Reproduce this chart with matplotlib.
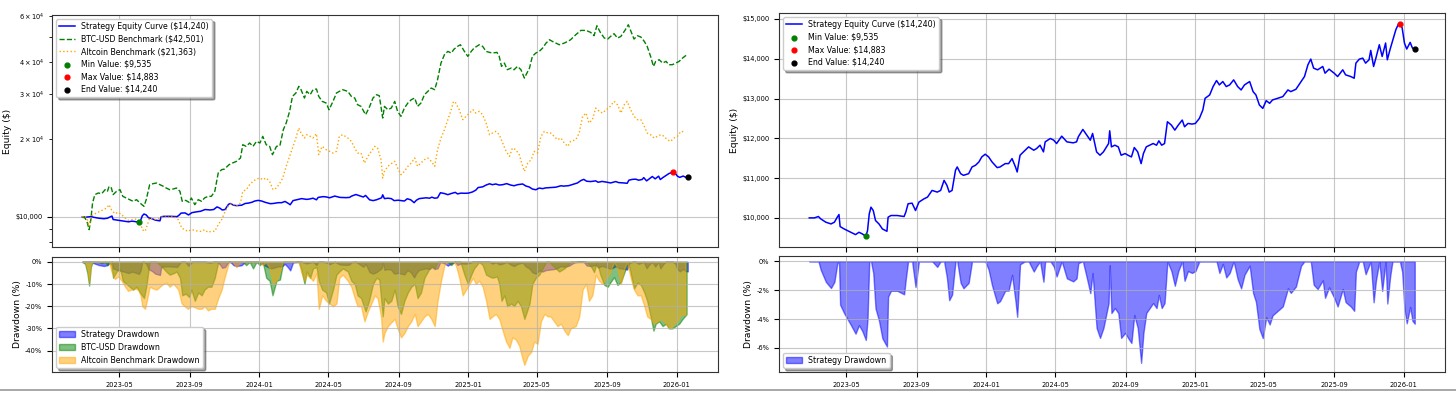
import numpy as np
import pandas as pd
import matplotlib
matplotlib.use("Agg")
import matplotlib.pyplot as plt
import matplotlib.dates as mdates
from matplotlib.ticker import FuncFormatter
from matplotlib.lines import Line2D

start_date = "2023-02-25"

# strategy equity (days since start, $)
strat_days = [0, 9, 16, 20, 29, 38, 44, 49, 52, 54, 61, 67, 73, 81, 87, 93, 99, 102, 105, 108,
              112, 116, 122, 128, 136, 138, 143, 154, 166, 169, 173, 180, 186, 192, 201, 207, 215, 224, 230, 236,
              241, 245, 250, 256, 259, 265, 270, 279, 285, 291, 297, 302, 308, 314, 320, 329, 334, 343, 349, 355,
              361, 364, 369, 378, 384, 393, 398, 404, 410, 413, 422, 428, 433, 442, 451, 462, 468, 471, 479, 486,
              492, 496, 503, 509, 515, 524, 526, 529, 535, 541, 546, 553, 558, 564, 569, 575, 581, 585, 590, 596,
              602, 608, 612, 617, 622, 627, 634, 640, 646, 653, 657, 663, 670, 676, 683, 689, 693, 701, 707, 713,
              718, 724, 730, 736, 743, 750, 756, 762, 771, 777, 782, 788, 794, 800, 806, 811, 820, 829, 838, 843,
              852, 861, 867, 873, 878, 883, 890, 899, 903, 910, 919, 925, 934, 939, 948, 954, 957, 963, 969, 974,
              980, 983, 988, 992, 998, 1003, 1009, 1012, 1017, 1021, 1027, 1031, 1034, 1038, 1042, 1046, 1052, 1056, 1060]
strat_equity = [10000, 10000, 10034, 9975, 9891, 9848, 9891, 10017, 10084, 9781, 9722, 9680, 9638, 9579, 9638, 9596, 9535, 9680, 10101, 10269,
                10185, 9933, 9848, 9722, 9663, 10017, 10059, 10059, 10034, 10143, 10354, 10370, 10185, 10396, 10480, 10522, 10690, 10648, 10690, 10943,
                10817, 10648, 10690, 11196, 11280, 11111, 11069, 11111, 11280, 11322, 11406, 11532, 11600, 11532, 11406, 11263, 11280, 11364, 11364, 11490,
                11280, 11154, 11575, 11701, 11785, 11701, 11743, 11827, 11659, 11911, 11996, 11953, 11869, 12054, 11911, 11886, 11911, 12038, 12223, 12080,
                11953, 12122, 11659, 11575, 11659, 11869, 12189, 11785, 11827, 11785, 11575, 11617, 11575, 11532, 11768, 11659, 11364, 11617, 11785, 11827,
                11869, 11827, 11937, 11827, 11869, 12417, 12332, 12206, 12332, 12459, 12290, 12374, 12358, 12374, 12501, 12711, 13006, 13090, 13301, 13452,
                13343, 13427, 13301, 13343, 13469, 13301, 13216, 13343, 13427, 13174, 13090, 12838, 12753, 12947, 12880, 12964, 13006, 13048, 13216, 13174,
                13233, 13427, 13553, 13848, 13991, 13764, 13722, 13806, 13637, 13738, 13637, 13553, 13722, 13595, 13553, 13511, 13890, 13991, 14016, 13890,
                13974, 14210, 13806, 14016, 14353, 14058, 14395, 13974, 14244, 14437, 14732, 14858, 14883, 14774, 14395, 14244, 14412, 14269, 14240]

btc_days = [0, 5, 9, 12, 15, 18, 22, 28, 34, 40, 44, 47, 51, 54, 60, 66, 71, 77, 83, 89,
            95, 101, 108, 112, 118, 124, 130, 136, 142, 147, 153, 159, 165, 171, 175, 181, 187, 191, 197, 203,
            209, 214, 220, 226, 232, 238, 244, 249, 257, 263, 270, 277, 281, 287, 293, 299, 305, 311, 316, 322,
            328, 333, 340, 346, 352, 357, 363, 368, 374, 379, 383, 389, 393, 399, 404, 410, 414, 420, 427, 432,
            439, 445, 450, 456, 465, 471, 477, 482, 488, 496, 502, 509, 515, 520, 526, 529, 535, 541, 547, 552,
            558, 564, 570, 576, 582, 587, 593, 599, 605, 611, 617, 622, 628, 634, 640, 646, 651, 657, 662, 669,
            675, 681, 686, 695, 701, 707, 713, 718, 726, 730, 734, 739, 744, 751, 756, 762, 768, 774, 777, 783,
            788, 794, 800, 806, 812, 818, 823, 829, 835, 844, 850, 855, 864, 873, 882, 890, 896, 901, 907, 914,
            920, 925, 931, 937, 943, 950, 956, 960, 966, 972, 978, 984, 989, 995, 1000, 1004, 1010, 1016, 1022, 1027,
            1033, 1039, 1045, 1051, 1058]
btc_equity = [10000, 9911, 9479, 8931, 9765, 11331, 12206, 12389, 12315, 12763, 12574, 13148, 12954, 12206, 12574, 12763, 12025, 11848, 11673, 11501,
              11673, 11331, 10999, 11673, 13345, 13465, 13545, 13345, 13148, 12954, 12763, 12839, 12954, 12574, 11501, 11604, 11399, 11848, 11163, 11673,
              11501, 11848, 12025, 12025, 12574, 14809, 15257, 15348, 15953, 16192, 16435, 16931, 19070, 18789, 19356, 18789, 19646, 19356, 20543, 19070,
              18789, 17443, 18789, 18901, 21803, 23139, 25678, 29356, 30243, 32097, 31156, 28923, 30696, 29796, 31156, 31342, 29356, 28075, 27661, 26063,
              28075, 30243, 30696, 31156, 30696, 29356, 28923, 27252, 26850, 24925, 26453, 28923, 29796, 29531, 24195, 26850, 26063, 26453, 28075, 25678,
              24557, 26453, 27661, 28495, 28923, 26850, 27661, 29796, 30696, 31623, 31156, 34064, 39528, 42579, 43865, 43217, 44788, 45866, 46554, 43865,
              41950, 43865, 45191, 46554, 45866, 43865, 43475, 43217, 43475, 41950, 38369, 39528, 37245, 37803, 37245, 38369, 37245, 34574, 35618, 37803,
              41950, 43217, 43865, 45191, 47252, 48679, 47960, 47252, 46554, 47252, 47960, 48679, 50904, 52901, 52901, 51965, 50452, 55156, 51965, 49408,
              48969, 50153, 51360, 49408, 50153, 52901, 55651, 52901, 48969, 50452, 49855, 47960, 45866, 41950, 38369, 40121, 40722, 39528, 40121, 38944,
              38944, 39528, 40121, 41332, 42501]

alt_days = [0, 5, 9, 12, 15, 19, 25, 31, 37, 43, 47, 51, 57, 63, 69, 75, 80, 86, 92, 98,
            102, 105, 110, 114, 118, 124, 130, 136, 142, 147, 153, 159, 164, 168, 174, 179, 185, 191, 197, 203,
            209, 214, 220, 226, 232, 238, 244, 249, 257, 263, 270, 277, 281, 287, 293, 299, 305, 311, 316, 322,
            328, 334, 340, 346, 351, 357, 363, 368, 374, 379, 383, 389, 393, 399, 404, 410, 414, 420, 427, 433,
            439, 445, 450, 456, 465, 471, 477, 482, 488, 494, 500, 506, 512, 517, 523, 526, 529, 535, 541, 547,
            552, 558, 564, 570, 576, 582, 587, 593, 599, 605, 611, 617, 622, 628, 634, 640, 646, 650, 654, 660,
            666, 672, 678, 684, 689, 695, 701, 707, 713, 718, 724, 730, 736, 742, 748, 753, 759, 765, 771, 774,
            780, 786, 791, 797, 803, 809, 815, 820, 826, 832, 838, 844, 850, 855, 864, 870, 876, 882, 887, 893,
            899, 905, 911, 917, 922, 931, 937, 943, 949, 954, 960, 966, 972, 978, 984, 989, 995, 1001, 1007, 1013,
            1019, 1024, 1030, 1036, 1042, 1048, 1056]
alt_equity = [10000, 10120, 9765, 9201, 10060, 10210, 10363, 10519, 10676, 10836, 11163, 10676, 10302, 10425, 10210, 9911, 9707, 9765, 9823, 9765,
              9479, 8931, 8799, 9339, 9911, 9823, 9765, 9911, 10060, 10120, 9911, 10060, 9911, 9765, 9065, 8931, 8799, 8931, 8878, 8799,
              8799, 8931, 8721, 8799, 8799, 9339, 9765, 10363, 11163, 11264, 10999, 11331, 12574, 12763, 13345, 13748, 14037, 14163, 13954, 14163,
              13748, 12763, 12954, 13545, 14163, 15717, 17185, 18511, 20240, 22130, 21163, 20240, 20851, 20543, 20240, 21038, 17443, 18789, 18238, 17969,
              17704, 17969, 20543, 20851, 20240, 19646, 18511, 17704, 17704, 16192, 17185, 17969, 18789, 18511, 16681, 14163, 15031, 15717, 16096, 16435,
              15485, 14591, 15031, 15717, 16192, 16931, 15717, 16192, 16681, 16931, 16435, 15717, 18238, 20240, 21803, 23837, 26063, 28075, 27661, 26063,
              23837, 24557, 25299, 26063, 25299, 25678, 24925, 23139, 20851, 21163, 21480, 20851, 19356, 17969, 17185, 18511, 18238, 17443, 15717, 15031,
              16192, 16681, 17969, 17704, 20543, 21480, 21163, 21163, 20543, 19941, 20240, 19356, 18789, 19646, 19941, 21163, 24557, 25299, 23139, 23837,
              26453, 25678, 25299, 26063, 26453, 28075, 27252, 25299, 27252, 28075, 26063, 24557, 23837, 23837, 22461, 21163, 20851, 20240, 20543, 20851,
              20543, 19941, 19646, 20240, 20543, 21480, 21363]


def to_dates(days):
    return pd.Timestamp(start_date) + pd.to_timedelta(days, unit="D")


def drawdown(eq):
    eq = np.asarray(eq, dtype=float)
    return (eq / np.maximum.accumulate(eq) - 1) * 100


s_dt, b_dt, a_dt = to_dates(strat_days), to_dates(btc_days), to_dates(alt_days)
s_eq, b_eq, a_eq = np.array(strat_equity), np.array(btc_equity), np.array(alt_equity)
i_min, i_max = np.argmin(s_eq), np.argmax(s_eq)

W, H = 1456, 395
fig = plt.figure(figsize=(W / 100, H / 100), dpi=100)


def px_axes(x0, y0, x1, y1, **kw):
    return fig.add_axes([x0 / W, 1 - y1 / H, (x1 - x0) / W, (y1 - y0) / H], **kw)


TICK, LAB, LEG = 4.8, 6.7, 5.7
dollar = FuncFormatter(lambda v, p: f"${v:,.0f}")
pct = FuncFormatter(lambda v, p: f"{v:.0f}%")


def style(ax):
    ax.grid(True, alpha=0.7)
    ax.tick_params(labelsize=TICK, which="both")
    for sp in ax.spines.values():
        sp.set_color("#333333")


def equity_panel(ax, with_bench):
    ax.plot(s_dt, s_eq, color="blue", lw=1.1, label=f"Strategy Equity Curve (${s_eq[-1]:,.0f})")
    if with_bench:
        ax.plot(b_dt, b_eq, color="green", lw=1.0, ls="--", label=f"BTC-USD Benchmark (${b_eq[-1]:,.0f})")
        ax.plot(a_dt, a_eq, color="orange", lw=1.0, ls=":", label=f"Altcoin Benchmark (${a_eq[-1]:,.0f})")
    ax.scatter(s_dt[i_min], s_eq[i_min], color="green", s=12, zorder=5, label=f"Min Value: ${s_eq[i_min]:,.0f}")
    ax.scatter(s_dt[i_max], s_eq[i_max], color="red", s=12, zorder=5, label=f"Max Value: ${s_eq[i_max]:,.0f}")
    ax.scatter(s_dt[-1], s_eq[-1], color="black", s=12, zorder=5, label=f"End Value: ${s_eq[-1]:,.0f}")
    ax.set_ylabel("Equity ($)", fontsize=LAB)
    ax.yaxis.set_label_coords(-0.060, 0.5)
    ax.legend(loc="upper left", fontsize=LEG, shadow=True, labelspacing=0.45)
    style(ax)
    ax.tick_params(labelbottom=False)


# left panel: strategy vs benchmarks (log scale)
axL = px_axes(52, 15, 718, 247)
axL.set_yscale("log")
equity_panel(axL, True)
axL.yaxis.set_major_formatter(dollar)
axL.set_ylim(7650, 60700)

axLd = px_axes(52, 257, 718, 372, sharex=axL)
axLd.fill_between(s_dt, drawdown(s_eq), 0, color="blue", alpha=0.5, label="Strategy Drawdown")
axLd.fill_between(b_dt, drawdown(b_eq), 0, color="green", alpha=0.5, label="BTC-USD Drawdown")
axLd.fill_between(a_dt, drawdown(a_eq), 0, color="orange", alpha=0.5, label="Altcoin Benchmark Drawdown")
axLd.set_ylim(-49.7, 2.2)
axLd.set_ylabel("Drawdown (%)", fontsize=LAB)
axLd.yaxis.set_label_coords(-0.045, 0.5)
axLd.yaxis.set_major_formatter(pct)
axLd.legend(loc="lower left", fontsize=LEG, shadow=True)
style(axLd)

# right panel: strategy only
axR = px_axes(779, 13, 1445, 247)
equity_panel(axR, False)
axR.yaxis.set_major_formatter(dollar)

axRd = px_axes(779, 256, 1445, 372, sharex=axR)
axRd.fill_between(s_dt, drawdown(s_eq), 0, color="blue", alpha=0.5, label="Strategy Drawdown")
axRd.set_ylim(-7.66, 0.36)
axRd.set_ylabel("Drawdown (%)", fontsize=LAB)
axRd.yaxis.set_label_coords(-0.039, 0.5)
axRd.yaxis.set_major_formatter(pct)
axRd.legend(loc="lower left", fontsize=LEG, shadow=True)
style(axRd)

for ax in (axLd, axRd):
    ax.xaxis.set_major_locator(mdates.MonthLocator(bymonth=(1, 5, 9)))
    ax.xaxis.set_major_formatter(mdates.DateFormatter("%Y-%m"))

# screenshot divider at the bottom
fig.add_artist(Line2D([0, 1], [1 - 390 / H] * 2, color="#999999", lw=1.2))

fig.savefig("out.png", dpi=100)
